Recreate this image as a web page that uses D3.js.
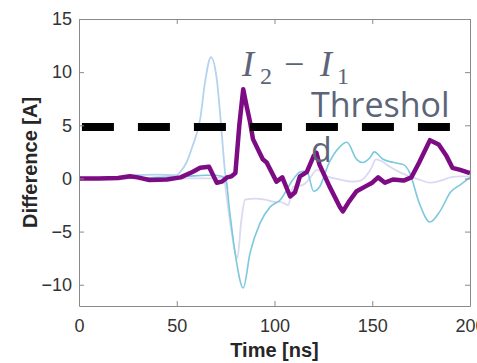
<!DOCTYPE html>
<html>
<head>
<meta charset="utf-8">
<script src="https://cdn.jsdelivr.net/npm/d3@7"></script>
<style>
  body { margin: 0; background: #fff; }
  svg { display: block; }
</style>
</head>
<body>
<div id="chart"></div>
<script>
// values (time in ns, difference in A)
var purpleT = [0, 10, 20, 26, 30, 36, 45, 52, 58, 62, 66.5, 70.5, 73, 75.7, 78, 80, 82, 84, 85.5, 87.5, 89, 94, 96, 101, 104, 108, 110.5, 113, 116.5, 120, 121.5, 123, 125, 128, 133.5, 135, 138, 142, 147, 150, 153, 156.5, 160.6, 166, 170, 174, 179.5, 184, 188, 191, 195, 200];
var purpleV = [0, 0, 0.05, 0.2, 0.1, -0.15, -0.1, 0.1, 0.6, 1.0, 1.1, -0.4, -0.3, 0.1, 0.2, 0.5, 5.0, 8.4, 7.0, 5.3, 3.7, 1.8, 1.5, -0.3, 0.1, -1.7, -1.3, 0.2, 0.6, 2.1, 2.4, 1.3, 0.5, -0.7, -2.7, -3.1, -2.2, -1.2, -0.7, -0.4, 0.1, -0.4, -0.1, -0.2, 0.1, 1.5, 3.6, 3.2, 2.1, 1.0, 0.8, 0.5];

var cyanT = [0, 20, 40, 55, 65, 70, 75, 77, 80, 84, 87.5, 92.6, 97.7, 103, 109.5, 113, 116.5, 120, 123, 128, 133.5, 137, 142, 145, 149, 151, 155.5, 161, 166, 169, 174, 179.5, 184.6, 190, 195, 200];
var cyanV = [0, 0, 0.1, 0.2, 0.3, 0.3, 0, -3, -7.2, -10.3, -7, -4.2, -2.7, -2.0, -0.1, 0.6, 0.7, -1.2, -0.8, 1.5, 3.0, 3.4, 1.8, 1.5, 2.0, 2.5, 1.8, 1.5, 1.3, 0.6, -2.3, -4.1, -3.1, -1.3, -0.6, 0.1];

var blueT = [0, 20, 28, 40, 50, 51.7, 55, 58, 62, 64.5, 67.5, 70.5, 73, 74.7, 76];
var blueV = [0, 0.05, 0.3, 0.35, 0.3, 0.6, 1.5, 3.0, 5.6, 9.1, 11.4, 9.3, 4.3, 0.6, -1.0];

var lavT = [0, 40, 70, 74, 75.2, 78, 81, 83, 85, 90, 95, 100, 103, 107, 109.5, 114.6, 118, 121.7, 127, 133.5, 140, 144, 149, 152, 155, 159, 164, 169, 174, 179.5, 185, 190, 195, 200];
var lavV = [0, 0, 0, 0.2, -1.3, -5, -7.5, -4, -2.0, -1.9, -2.0, -2.2, -2.2, -2.5, -0.8, -0.6, 0, 0.8, 0.2, -0.1, -0.3, -0.2, 0.8, 1.8, 1.6, 1.1, 0.6, 0.2, -0.1, -0.4, -0.2, 0.1, 0.2, 0.2];

var thresholdT = [1.5, 190];
var thresholdV = [4.85, 4.85];

var xTicks = [0, 50, 100, 150, 200];
var yTicks = [-10, -5, 0, 5, 10, 15];

var W = 477, H = 363;
var margin = {left: 79, right: 7, top: 19, bottom: 57};

var svg = d3.select('#chart').append('svg')
  .attr('width', W)
  .attr('height', H);

var x = d3.scaleLinear().domain([0, 200]).range([margin.left, W - margin.right]);
var y = d3.scaleLinear().domain([-12, 15]).range([H - margin.bottom, margin.top]);

function pts(ts, vs) { return ts.map(function(t, i) { return [t, vs[i]]; }); }

var line = d3.line().x(function(d) { return x(d[0]); }).y(function(d) { return y(d[1]); });
var smooth = d3.line().curve(d3.curveMonotoneX).x(function(d) { return x(d[0]); }).y(function(d) { return y(d[1]); });

var plot = svg.append('g');

plot.append('path').datum(pts(lavT, lavV))
  .attr('d', smooth).attr('fill', 'none').attr('stroke', '#d9daf2').attr('stroke-width', 1.8);
plot.append('path').datum(pts(blueT, blueV))
  .attr('d', smooth).attr('fill', 'none').attr('stroke', '#b4d3ef').attr('stroke-width', 1.8);
plot.append('path').datum(pts(cyanT, cyanV))
  .attr('d', smooth).attr('fill', 'none').attr('stroke', '#7cc8dc').attr('stroke-width', 1.6);
plot.append('path').datum(pts(purpleT, purpleV))
  .attr('d', line).attr('fill', 'none').attr('stroke', '#7d0b84').attr('stroke-width', 4.5)
  .attr('stroke-linejoin', 'round');

plot.append('path').datum(pts(thresholdT, thresholdV))
  .attr('d', line).attr('fill', 'none').attr('stroke', '#000').attr('stroke-width', 8)
  .attr('stroke-dasharray', '32,24');

// axes, matlab style box with inward ticks
var axisColor = '#8a8a8a';
function styleAxis(g) {
  g.select('.domain').attr('stroke', axisColor);
  g.selectAll('.tick line').attr('stroke', axisColor);
  g.selectAll('.tick text').attr('fill', '#333').style('font-family', 'Arial, "Liberation Sans", sans-serif').style('font-size', '18px');
}

svg.append('g').attr('transform', 'translate(0,' + y.range()[0] + ')')
  .call(d3.axisBottom(x).tickValues(xTicks).tickSizeInner(-5).tickSizeOuter(0).tickPadding(13))
  .call(styleAxis);
svg.append('g').attr('transform', 'translate(' + x.range()[0] + ',0)')
  .call(d3.axisLeft(y).tickValues(yTicks).tickSizeInner(-5).tickSizeOuter(0).tickPadding(7))
  .call(styleAxis);
svg.append('g').attr('transform', 'translate(0,' + y.range()[1] + ')')
  .call(d3.axisTop(x).tickValues(xTicks).tickSizeInner(-5).tickSizeOuter(0).tickFormat(''))
  .call(styleAxis);
svg.append('g').attr('transform', 'translate(' + x.range()[1] + ',0)')
  .call(d3.axisRight(y).tickValues(yTicks).tickSizeInner(-5).tickSizeOuter(0).tickFormat(''))
  .call(styleAxis);

// axis titles
svg.append('text')
  .attr('x', (x.range()[0] + x.range()[1]) / 2)
  .attr('y', 357)
  .attr('text-anchor', 'middle')
  .style('font-family', 'Arial, "Liberation Sans", sans-serif')
  .style('font-weight', 'bold').style('font-size', '20px').attr('fill', '#262626')
  .text('Time [ns]');

svg.append('text')
  .attr('transform', 'translate(37,' + (y.range()[0] + y.range()[1]) / 2 + ') rotate(-90)')
  .attr('text-anchor', 'middle')
  .style('font-family', 'Arial, "Liberation Sans", sans-serif')
  .style('font-weight', 'bold').style('font-size', '20px').attr('fill', '#262626')
  .text('Difference [A]');

// annotations
var annColor = '#5b6577';
var eq = svg.append('g')
  .style('font-family', '"Liberation Serif", "DejaVu Serif", serif')
  .attr('fill', annColor);
eq.append('text').attr('x', 242).attr('y', 76).style('font-size', '36px').style('font-style', 'italic').text('I');
eq.append('text').attr('x', 260).attr('y', 84).style('font-size', '24px').text('2');
eq.append('text').attr('x', 284).attr('y', 76).style('font-size', '36px').text('\u2212');
eq.append('text').attr('x', 320).attr('y', 76).style('font-size', '36px').style('font-style', 'italic').text('I');
eq.append('text').attr('x', 337).attr('y', 84).style('font-size', '24px').text('1');

var th = svg.append('text')
  .style('font-family', '"Open Sans", "Noto Sans", sans-serif')
  .style('font-size', '34px').attr('fill', annColor);
th.append('tspan').attr('x', 311).attr('y', 117).text('Threshol');
th.append('tspan').attr('x', 311).attr('y', 162).text('d');
</script>
</body>
</html>
